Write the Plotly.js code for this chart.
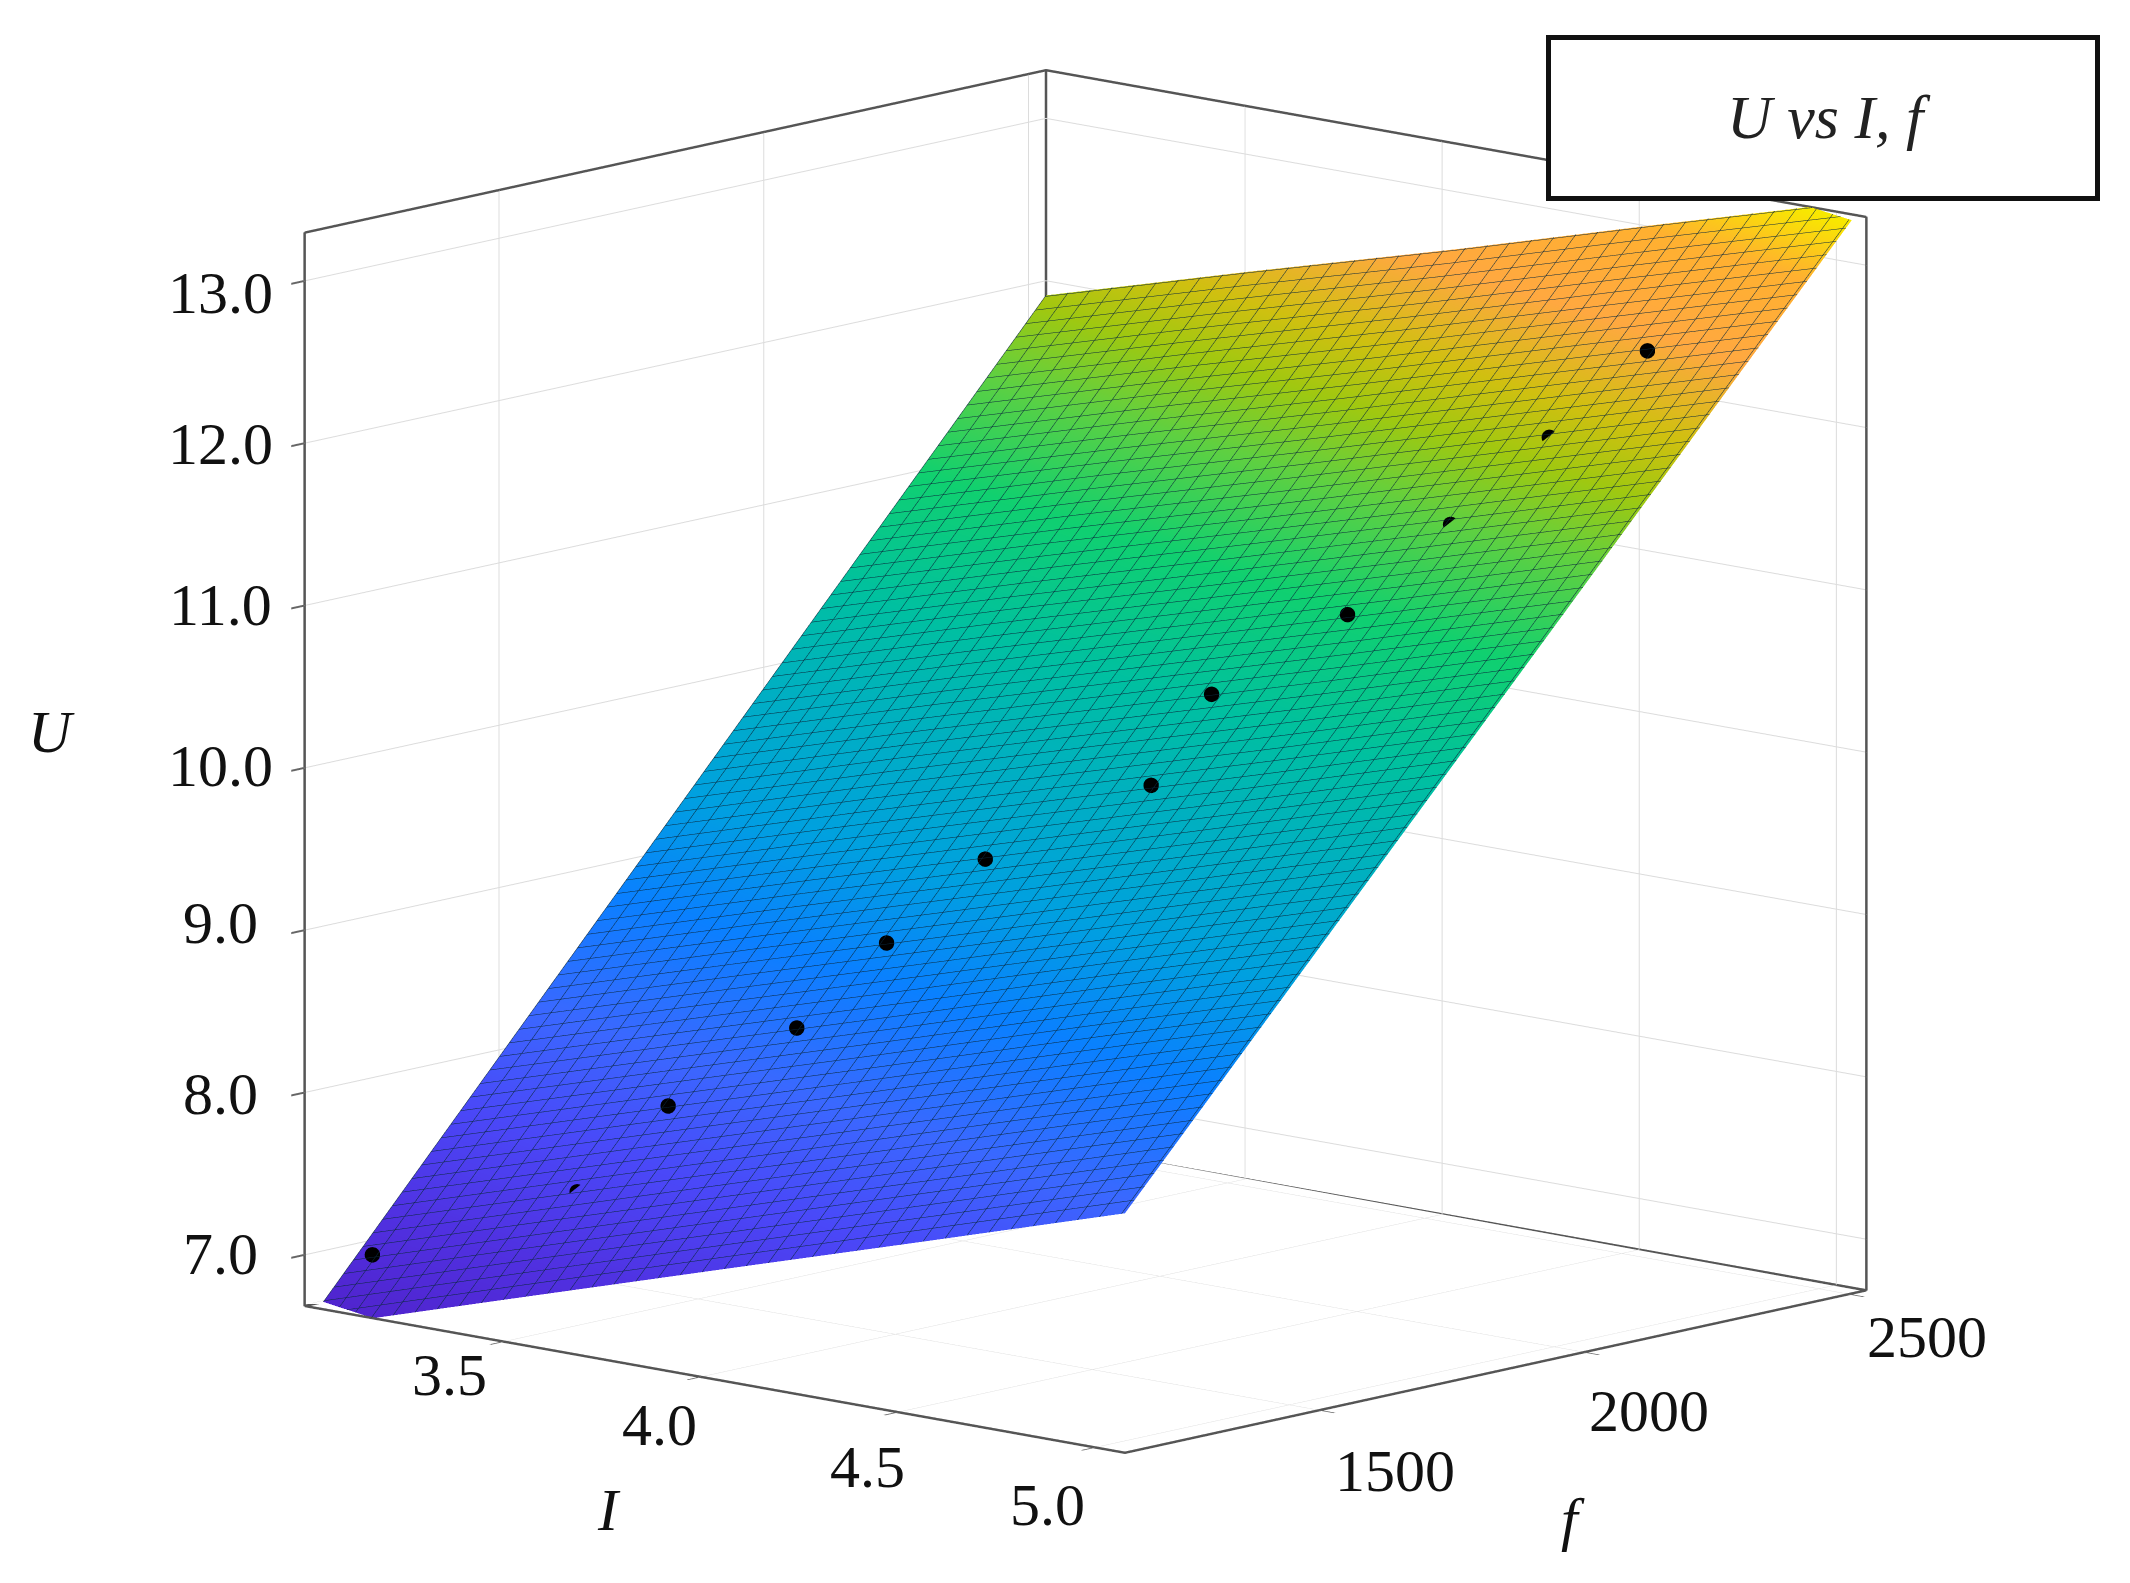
<!DOCTYPE html>
<html><head><meta charset="utf-8">
<script src="https://cdn.plot.ly/plotly-3.0.0.min.js"></script>
<style>html,body{margin:0;padding:0;background:#fff}#c{width:2130px;height:1583px}</style>
</head><body><div id="c"></div>
<script>
const surfI=[2.995,3.51,4.04,4.56,5.076];
const surfF=[1133,1483,1833,2183,2533];
const surfU=[
[6.55,6.95,7.36,7.76,8.16],
[7.89,8.28,8.68,9.08,9.47],
[9.23,9.62,10.01,10.39,10.78],
[10.57,10.95,11.33,11.71,12.09],
[11.91,12.28,12.65,13.03,13.40]];
const dotI=[3.067,3.479,3.597,3.797,3.877,3.977,4.297,4.277,4.497,4.573,4.673,4.797];
const dotF=[1207,1287,1371,1465,1575,1687,1762,1891,1984,2122,2234,2327];
const dotU=[6.98,7.49,8.01,8.51,8.99,9.47,10.01,10.47,10.99,11.48,11.98,12.50];
const rangeI=[2.995,5.076], rangeF=[1133,2533], rangeU=[6.685,13.297];
const frameI=[2.995,2.995,5.076,null,2.995,2.995];
const frameF=[1133,2533,2533,null,2533,2533];
const frameU=[6.685,6.685,6.685,null,6.685,13.297];
const ticksI=[3.5,4.0,4.5,5.0], ticksF=[1500,2000,2500], ticksU=[7,8,9,10,11,12,13];
const shiftI=[[-54,-34],[-41,-48],[-30,-55],[-47,-58]];
const shiftF=[[76,-61],[65,-59],[78,-43]];
const shiftU=[1,-2,7,2,0,-1,-12];
const stops=[[0,'#5020c8'],[.091,'#5030e0'],[.174,'#4a48f8'],[.246,'#3a68ff'],[.333,'#0a80ff'],[.406,'#00a0e0'],[.493,'#00b0c0'],[.565,'#00c0a0'],[.652,'#10d070'],[.725,'#60d040'],[.775,'#a0c810'],[.819,'#d0c010'],[.877,'#ffa840'],[.942,'#ffb030'],[.986,'#f8e800'],[1,'#f0f000']];
const font={family:'"Liberation Serif",serif',size:60,color:'#111'};
function ax(range,ticks){return {
 title:{text:''},range:range,autorange:false,
 tickmode:'array',tickvals:ticks,showticklabels:false,
 showbackground:false,showgrid:true,gridcolor:'#dcdcdc',gridwidth:2,zeroline:false,
 showline:true,linecolor:'#555',linewidth:5,mirror:true,ticks:'outside',ticklen:20,tickcolor:'#666',tickwidth:4,showspikes:false};}
const labels=[];
function lab(x,y,z,text,sx,sy){labels.push({x:x,y:y,z:z,text:text,showarrow:false,xanchor:'center',yanchor:'middle',xshift:sx,yshift:sy,font:font});}
ticksI.forEach((v,i)=>lab(v,rangeF[0],rangeU[0],v.toFixed(1),shiftI[i][0],shiftI[i][1]));
ticksF.forEach((v,i)=>lab(rangeI[1],v,rangeU[0],v.toFixed(0),shiftF[i][0],shiftF[i][1]));
ticksU.forEach((v,i)=>lab(rangeI[0],rangeF[0],v,v.toFixed(1),-84,shiftU[i]));
lab(rangeI[0],rangeF[0],10.2,'<i>U</i>',-253,3);
lab(4.0,rangeF[0],rangeU[0],'<i>I</i>',-92,-133);
lab(rangeI[1],1500,rangeU[0],'<i>f</i>',254,-109);
Plotly.newPlot('c',[
{type:'surface',x:surfI,y:surfF,z:surfU,cmin:6.5,cmax:13.4,colorscale:stops,showscale:false,
 lighting:{ambient:1,diffuse:0,specular:0,roughness:1,fresnel:0},
 contours:{x:{show:true,start:2.995,end:5.076,size:0.056,color:'rgb(10,40,60)',width:3},
           y:{show:true,start:1133,end:2533,size:18.4,color:'rgb(10,40,60)',width:3},
           z:{show:false}}},
{type:'scatter3d',mode:'markers',x:dotI,y:dotF,z:dotU,marker:{color:'#000',size:9,line:{width:0}},showlegend:false},
{type:'scatter3d',mode:'lines',x:frameI,y:frameF,z:frameU,line:{color:'#555',width:5},showlegend:false,connectgaps:false}
],{
 width:2130,height:1583,margin:{l:0,r:0,t:0,b:0},paper_bgcolor:'#fff',showlegend:false,
 scene:{domain:{x:[0.0192,1],y:[0.038,1]},aspectmode:'manual',aspectratio:{x:1.452,y:1.452,z:1.438},
  camera:{projection:{type:'orthographic'},up:{x:0,y:0,z:1},center:{x:0,y:0,z:0},eye:{x:1.314,y:-1.454,z:0.396}},
  xaxis:ax(rangeI,ticksI),yaxis:ax(rangeF,ticksF),zaxis:ax(rangeU,ticksU),annotations:labels},
 annotations:[
 {xref:'paper',yref:'paper',x:1546/2130,y:1-35/1583,xanchor:'left',yanchor:'top',width:544,height:156,
  text:'&nbsp;',showarrow:false,bgcolor:'#fff',bordercolor:'#111',borderwidth:5,borderpad:0,font:{size:20}},
 {xref:'paper',yref:'paper',x:1829/2130,y:1-117/1583,xanchor:'center',yanchor:'middle',
  text:'<i>U vs I, f</i>',showarrow:false,font:{family:'"Liberation Serif",serif',size:62,color:'#222'}}]
},{displayModeBar:false});
</script></body></html>
